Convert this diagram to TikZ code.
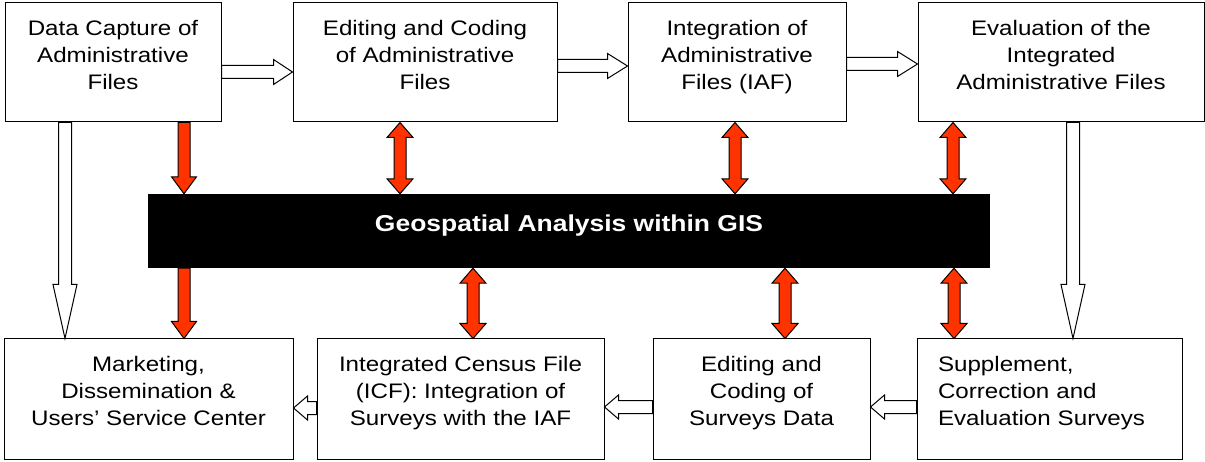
\documentclass[tikz,border=0pt]{standalone}
\usepackage{fontspec}
\setmainfont{Liberation Sans}[FakeStretch=1.15]
\usetikzlibrary{calc}
\definecolor{gisred}{RGB}{255,51,0}

\tikzset{
  box/.style={draw, line width=1pt, align=center, inner sep=0pt, text depth=16pt,
    font=\fontsize{21}{27}\selectfont},
  blockline/.style={draw=black, line width=1pt, line join=miter},
}

% block arrow: fill, from, to, half shaft, half head, head length
\newcommand{\flowarrow}[6]{%
  \coordinate (tail) at (#2);
  \coordinate (tip) at (#3);
  \coordinate (neck) at ($(tip)!#6!(tail)$);
  \draw[blockline, fill=#1]
    ($(tail)!#4!90:(tip)$) -- ($(neck)!#4!90:(tip)$) -- ($(neck)!#5!90:(tip)$)
    -- (tip) -- ($(neck)!#5!-90:(tip)$) -- ($(neck)!#4!-90:(tip)$)
    -- ($(tail)!#4!-90:(tip)$) -- cycle;
}
% two-headed red arrow: from, to, half shaft, half head, head length
\newcommand{\twoway}[5]{%
  \coordinate (tail) at (#1);
  \coordinate (tip) at (#2);
  \coordinate (neckA) at ($(tail)!#5!(tip)$);
  \coordinate (neckB) at ($(tip)!#5!(tail)$);
  \draw[blockline, fill=gisred]
    (tail) -- ($(neckA)!#4!90:(tip)$) -- ($(neckA)!#3!90:(tip)$)
    -- ($(neckB)!#3!90:(tip)$) -- ($(neckB)!#4!90:(tip)$) -- (tip)
    -- ($(neckB)!#4!-90:(tip)$) -- ($(neckB)!#3!-90:(tip)$)
    -- ($(neckA)!#3!-90:(tip)$) -- ($(neckA)!#4!-90:(tip)$) -- cycle;
}

\begin{document}
\begin{tikzpicture}[x=1pt, y=-1pt]
    \useasboundingbox (0,0) rectangle (1205,462);

    \node[box, minimum width=216pt, minimum height=119pt] (capture) at (113,62.5)
        {Data Capture of\\Administrative\\Files};
    \node[box, minimum width=264pt, minimum height=119pt] (editadm) at (425,62.5)
        {Editing and Coding\\of Administrative\\Files};
    \node[box, minimum width=218pt, minimum height=119pt] (integ) at (737,62.5)
        {Integration of\\Administrative\\Files (IAF)};
    \node[box, minimum width=286pt, minimum height=119pt] (evalint) at (1061,62.5)
        {Evaluation of the\\Integrated\\Administrative Files};

    \node[fill=black, text=white, font=\fontsize{23}{28}\selectfont\bfseries,
        minimum width=842pt, minimum height=74pt, text height=17pt, text depth=15pt]
        (gis) at (569,231) {Geospatial Analysis within GIS};

    \node[box, minimum width=289pt, minimum height=120pt] (market) at (148.5,399)
        {Marketing,\\Dissemination \&\\Users' Service Center};
    \node[box, minimum width=287pt, minimum height=120pt] (icf) at (460.5,399)
        {Integrated Census File\\(ICF): Integration of\\Surveys with the IAF};
    \node[box, minimum width=217pt, minimum height=120pt] (edsurv) at (761.5,399)
        {Editing and\\Coding of\\Surveys Data};
    \node[box, align=left, inner xsep=21pt, text width=223pt, text depth=70pt,
        minimum height=120pt] (supp) at (1049.5,399)
        {Supplement,\\Correction and\\Evaluation Surveys};

    % white flow arrows
    \flowarrow{white}{capture.east |- 0,72}{editadm.west |- 0,72}{6.5pt}{12.5pt}{19pt}
    \flowarrow{white}{editadm.east |- 0,66}{integ.west |- 0,66}{6.5pt}{12.5pt}{20pt}
    \flowarrow{white}{integ.east |- 0,64}{evalint.west |- 0,64}{6.5pt}{12.5pt}{20pt}
    \flowarrow{white}{65,0 |- capture.south}{65,0 |- market.north}{6.5pt}{12pt}{54pt}
    \flowarrow{white}{1073,0 |- evalint.south}{1073,0 |- supp.north}{6.5pt}{12pt}{54pt}
    \flowarrow{white}{supp.west |- 0,407}{edsurv.east |- 0,407}{6.5pt}{12pt}{14pt}
    \flowarrow{white}{edsurv.west |- 0,407}{icf.east |- 0,407}{6.5pt}{12pt}{14pt}
    \flowarrow{white}{icf.west |- 0,408}{market.east |- 0,408}{6.5pt}{12pt}{14pt}

    % red links to the GIS bar
    \flowarrow{gisred}{184,0 |- capture.south}{184,0 |- gis.north}{6pt}{12.5pt}{17pt}
    \flowarrow{gisred}{184,0 |- gis.south}{184,0 |- market.north}{6pt}{12.5pt}{17pt}
    \twoway{400,0 |- editadm.south}{400,0 |- gis.north}{6pt}{13pt}{15pt}
    \twoway{735,0 |- integ.south}{735,0 |- gis.north}{6pt}{13pt}{15pt}
    \twoway{953,0 |- evalint.south}{953,0 |- gis.north}{6pt}{13pt}{15pt}
    \twoway{473,0 |- gis.south}{473,0 |- icf.north}{6pt}{13pt}{15pt}
    \twoway{785,0 |- gis.south}{785,0 |- edsurv.north}{6pt}{13pt}{15pt}
    \twoway{954,0 |- gis.south}{954,0 |- supp.north}{6pt}{13pt}{15pt}
\end{tikzpicture}
\end{document}
